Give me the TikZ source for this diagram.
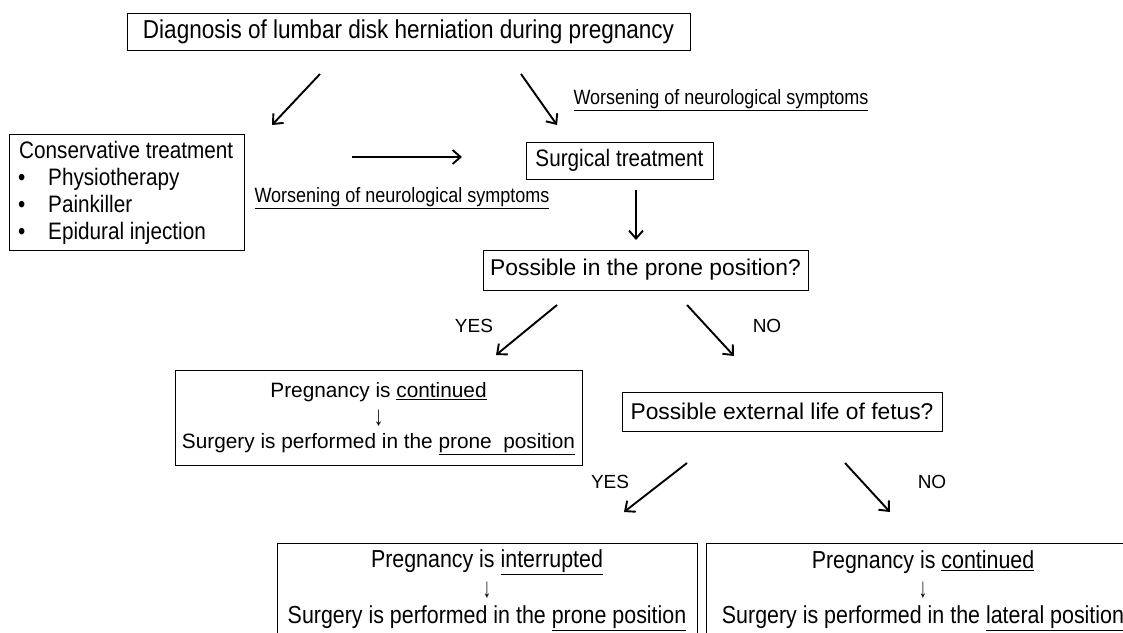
\documentclass[tikz,border=0pt]{standalone}
\usepackage{fontspec}
\setmainfont{Liberation Sans}
\newfontfamily\cond{Liberation Sans}[FakeStretch=0.87]
\usetikzlibrary{arrows.meta}
\newcommand{\tallarrow}{\fontsize{19}{20}\selectfont\scalebox{1}[1.45]{↓}}
\begin{document}
\begin{tikzpicture}[x=1pt,y=-1pt,
  box/.style={draw, line width=1pt, inner sep=0pt},
  txt/.style={inner sep=0pt, align=center},
  arr/.style={line width=1.9pt, -{Straight Barb[length=8pt,width=14pt]}},
  bigc/.style={font=\cond\fontsize{25.9}{30}\selectfont},
  boxc/.style={font=\cond\fontsize{23.8}{28}\selectfont},
  worsen/.style={font=\cond\fontsize{20.7}{24}\selectfont},
  arial/.style={font=\fontsize{22.8}{28}\selectfont},
  midf/.style={font=\fontsize{20.8}{26}\selectfont},
  yn/.style={font=\fontsize{19}{22}\selectfont},
  botf/.style={font=\cond\fontsize{24.6}{28}\selectfont}
]
\useasboundingbox (0,0) rectangle (1123,632);
\clip (0,0) rectangle (1123,632);
\fill[white] (0,0) rectangle (1123,632);

% boxes
\node[box, minimum width=563pt, minimum height=37pt, bigc] (diag) at (408.5,31.5) {Diagnosis of lumbar disk herniation during pregnancy};
\node[box, minimum width=235pt, minimum height=116pt] (cons) at (127,192) {};
\node[txt, anchor=base west, boxc] (c0) at (19,158) {Conservative treatment};
\node[txt, anchor=base west, boxc] (c1b) at (18,185.5) {•};
\node[txt, anchor=base west, boxc] (c1) at (48,185.5) {Physiotherapy};
\node[txt, anchor=base west, boxc] (c2b) at (18,212.5) {•};
\node[txt, anchor=base west, boxc] (c2) at (48,212.5) {Painkiller};
\node[txt, anchor=base west, boxc] (c3b) at (18,239.5) {•};
\node[txt, anchor=base west, boxc] (c3) at (48,239.5) {Epidural injection};

\node[box, minimum width=187pt, minimum height=37pt, boxc] (surg) at (619.5,160.5) {Surgical treatment};
\node[box, minimum width=325pt, minimum height=40pt, arial] (prone) at (645.5,270) {Possible in the prone position?};
\node[box, minimum width=320pt, minimum height=39pt, arial] (ext) at (782,411.5) {Possible external life of fetus?};

\node[box, minimum width=407pt, minimum height=95pt] (cont) at (378.5,417.5) {};
\node[txt, midf] (cont1) at (378.5,392) {Pregnancy is \underline{continued}};
\node[txt, midf] (cont2) at (378.5,418) {\tallarrow};
\node[txt, midf] (cont3) at (378.5,444) {Surgery is performed in the \underline{prone\ \ position}};

\node[box, minimum width=420pt, minimum height=107pt] (intr) at (487,596.5) {};
\node[txt, botf] (intr1) at (487,562) {Pregnancy is \underline{interrupted}};
\node[txt, botf] (intr2) at (487,590) {\tallarrow};
\node[txt, botf] (intr3) at (487,618) {Surgery is performed in the \underline{prone position}};

\node[box, minimum width=434pt, minimum height=107pt] (lat) at (923,596.5) {};
\node[txt, botf] (lat1) at (923,562) {Pregnancy is \underline{continued}};
\node[txt, botf] (lat2) at (923,590) {\tallarrow};
\node[txt, botf] (lat3) at (923,618) {Surgery is performed in the \underline{lateral position}};

% labels
\node[txt, worsen] (w1) at (721,100) {\underline{Worsening of neurological symptoms}};
\node[txt, worsen] (w2) at (402,198) {\underline{Worsening of neurological symptoms}};
\node[txt, yn] (yes1) at (474,326) {YES};
\node[txt, yn] (no1) at (767,326) {NO};
\node[txt, yn] (yes2) at (610,482) {YES};
\node[txt, yn] (no2) at (932,482) {NO};

% arrow end points
\coordinate (a1s) at (320,74); \coordinate (a1e) at (272,125);
\coordinate (a2s) at (521,74); \coordinate (a2e) at (557,125);
\coordinate (hs) at (352,157); \coordinate (he) at (462,157);
\coordinate (ds) at (636,190); \coordinate (de) at (636,240);
\coordinate (y1s) at (557,305); \coordinate (y1e) at (496,355);
\coordinate (n1s) at (687,305); \coordinate (n1e) at (734,356);
\coordinate (y2s) at (687,463); \coordinate (y2e) at (624,512);
\coordinate (n2s) at (845,463); \coordinate (n2e) at (890,512);

\draw[arr] (a1s) -- (a1e);
\draw[arr] (a2s) -- (a2e);
\draw[arr] (hs) -- (he);
\draw[arr] (ds) -- (de);
\draw[arr] (y1s) -- (y1e);
\draw[arr] (n1s) -- (n1e);
\draw[arr] (y2s) -- (y2e);
\draw[arr] (n2s) -- (n2e);
\end{tikzpicture}
\end{document}
